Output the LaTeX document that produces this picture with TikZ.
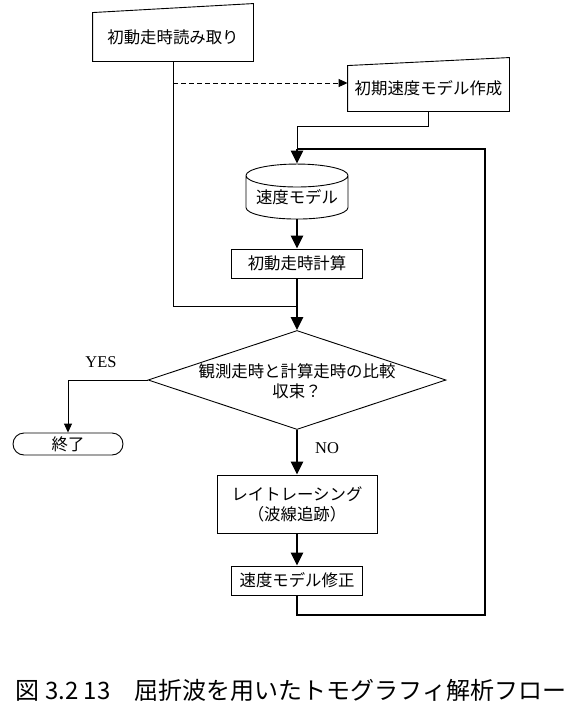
\documentclass[tikz,border=0pt]{standalone}
\usepackage{fontspec}
\setmainfont{Noto Sans CJK JP}
\newfontfamily\timesfont{Liberation Serif}
\usetikzlibrary{arrows.meta,calc,positioning,shapes.geometric,shapes.misc}

\begin{document}
\begin{tikzpicture}
[x=1pt,y=-1pt, line width=0.9pt,
font=\fontsize{16.4}{20}\selectfont,
box/.style={draw,rectangle,inner sep=0pt,align=center},
manual/.style={rectangle,inner sep=0pt,minimum width=160pt,minimum height=48pt},
bold/.style={line width=2.7pt},
arr/.style={-{Triangle[length=13pt,width=12pt]}},
sarr/.style={-{Triangle[length=9pt,width=8pt]}},
yesno/.style={font=\timesfont\fontsize{16.5}{20}\selectfont}]
\useasboundingbox (0,0) rectangle (586,707);

\node (rd) at (173,37) [manual] {初動走時読み取り};
\node (init) at (428.5,88.5) [manual,minimum width=161pt,minimum height=45pt] {初期速度モデル作成};
\node (vm) at (297,197.5) [draw,cylinder,shape border rotate=90,shape aspect=0.28,
  minimum width=102pt,minimum height=55pt,inner sep=0pt] {速度モデル};
\node (calc) at (297,263.5) [box,minimum width=131pt,minimum height=29pt] {初動走時計算};
\node (cmp) at (297,380) [draw,diamond,inner sep=0pt,minimum width=298pt,minimum height=99pt] {};
\node (q1) at (297,371) {観測走時と計算走時の比較};
\node (q2) at (297,391) {収束？};
\node (stop) at (68,444) [draw,rounded rectangle,inner sep=0pt,minimum width=110pt,minimum height=22pt] {終了};
\node (ray) at (297,504) [box,minimum width=160pt,minimum height=58pt] {レイトレーシング\\（波線追跡）};
\node (upd) at (297,580.5) [box,minimum width=131pt,minimum height=29pt] {速度モデル修正};
\node (yes) at (101,362) [yesno] {YES};
\node (no) at (327,448) [yesno] {NO};
\node (cap) at (291,690) [font=\fontsize{24}{28}\selectfont] {図 3.2 13\quad 屈折波を用いたトモグラフィ解析フロー};

\coordinate (j1) at (297,306);
\coordinate (d0) at (173,83);
\coordinate (m1) at (297,126);
\coordinate (lp) at (297,149);
\coordinate (c1) at (297,615);
\coordinate (c2) at (485,615);
\coordinate (c3) at (485,149);
\coordinate (ys) at (68,380);

% slanted tops
\draw (rd.south west) -- ($(rd.north west)$) -- ($(rd.north east)+(0,-9)$) -- (rd.south east) -- cycle;
\draw (init.south west) -- (init.north west) -- ($(init.north east)+(0,-8)$) -- (init.south east) -- cycle;

\draw (rd.south) |- (j1);
\draw[dash pattern=on 5pt off 3pt,sarr] (d0) -- (d0 -| init.west);
\draw (init.south) |- (m1) -- (lp);

\draw[bold,arr] (lp) -- (vm.top);
\draw[bold,arr] (vm.bottom) -- (calc);
\draw[bold,arr] (calc) -- (cmp.north);
\draw[bold,arr] (cmp.south) -- (ray);
\draw[bold,arr] (ray) -- (upd);
\draw[bold] (upd.south) -- (c1) -- (c2) -- (c3) -- (lp);

\draw[sarr] (cmp.west) -- (ys) -- (stop.north);

\end{tikzpicture}
\end{document}
